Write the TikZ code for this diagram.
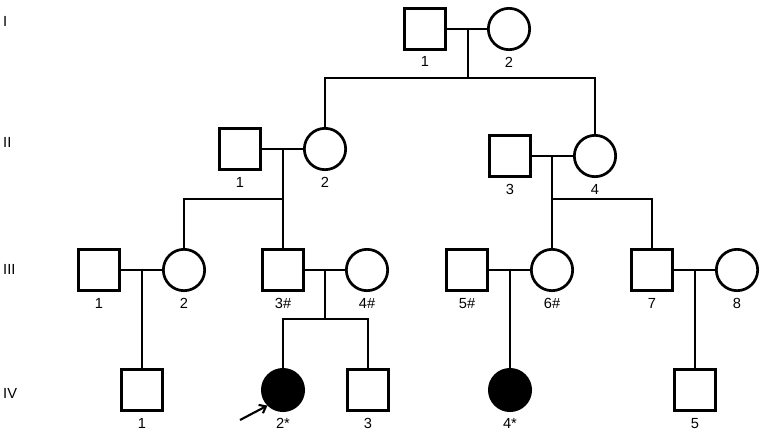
\documentclass[tikz,border=0pt]{standalone}
\usepackage{fontspec}
\setmainfont{Liberation Sans}
\usepackage{tikz}
\usetikzlibrary{arrows.meta}

\begin{document}
\begin{tikzpicture}[x=0.03cm, y=-0.03cm,
  every node/.style={font=\fontsize{12.5}{14}\selectfont},
  male/.style={draw, rectangle, line width=2.3pt, minimum size=1.24cm, inner sep=0pt},
  female/.style={draw, circle, line width=2.3pt, minimum size=1.24cm, inner sep=0pt},
  affected/.style={fill=black},
  every label/.style={inner sep=0pt},
  label distance=0.17cm,
  line/.style={line width=1.8pt},
  gen/.style={anchor=west, inner sep=0pt}]

\useasboundingbox (0,0) rectangle (765,435);

\node[gen] (genI) at (3,21) {I};
\node[gen] (genII) at (3,142) {II};
\node[gen] (genIII) at (3,269) {III};
\node[gen] (genIV) at (3,393) {IV};

\node[male, label=below:1] (I1) at (425,29) {};
\node[female, label=below:2] (I2) at (509,29) {};

\node[male, label=below:1] (II1) at (240,149) {};
\node[female, label=below:2] (II2) at (325,149) {};
\node[male, label=below:3] (II3) at (510,156) {};
\node[female, label=below:4] (II4) at (595,156) {};

\node[male, label=below:1] (III1) at (99,270) {};
\node[female, label=below:2] (III2) at (184,270) {};
\node[male, label=below:3\#] (III3) at (283,270) {};
\node[female, label=below:4\#] (III4) at (367,270) {};
\node[male, label=below:5\#] (III5) at (467,270) {};
\node[female, label=below:6\#] (III6) at (552,270) {};
\node[male, label=below:7] (III7) at (652,270) {};
\node[female, label=below:8] (III8) at (737,270) {};

\node[male, label=below:1] (IV1) at (142,390) {};
\node[female, affected, label=below:2*] (IV2) at (283,390) {};
\node[male, label=below:3] (IV3) at (368,390) {};
\node[female, affected, label=below:4*] (IV4) at (510,390) {};
\node[male, label=below:5] (IV5) at (695,390) {};

\coordinate (mI) at (468,29);
\coordinate (sI) at (468,78);
\coordinate (mIIa) at (283,149);
\coordinate (sIIa) at (283,199);
\coordinate (mIIb) at (552,156);
\coordinate (sIIb) at (552,199);
\coordinate (mIIIa) at (142,270);
\coordinate (mIIIb) at (325,270);
\coordinate (sIIIb) at (325,319);
\coordinate (mIIIc) at (510,270);
\coordinate (mIIId) at (695,270);
\coordinate (pointer) at (240,420);

\draw[line] (I1) -- (I2);
\draw[line] (mI) -- (sI);
\draw[line] (II2.north) |- (sI) -| (II4.north);

\draw[line] (II1) -- (II2);
\draw[line] (mIIa) -- (III3.north);
\draw[line] (III2.north) |- (sIIa);
\draw[line] (II3) -- (II4);
\draw[line] (mIIb) -- (III6.north);
\draw[line] (sIIb) -| (III7.north);

\draw[line] (III1) -- (III2);
\draw[line] (mIIIa) -- (IV1.north);
\draw[line] (III3) -- (III4);
\draw[line] (mIIIb) -- (sIIIb);
\draw[line] (IV2.north) |- (sIIIb) -| (IV3.north);
\draw[line] (III5) -- (III6);
\draw[line] (mIIIc) -- (IV4.north);
\draw[line] (III7) -- (III8);
\draw[line] (mIIId) -- (IV5.north);

\draw[line, -{Straight Barb[length=5pt, width=8pt]}] (pointer) -- (IV2.225);

\end{tikzpicture}
\end{document}
